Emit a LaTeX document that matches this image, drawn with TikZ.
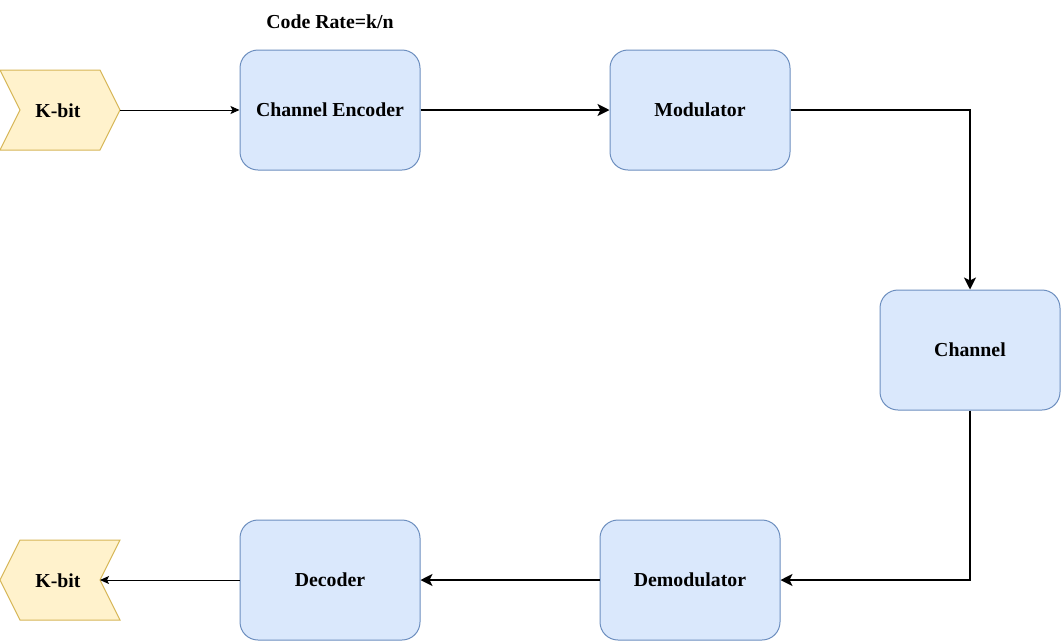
\documentclass[tikz,border=0pt]{standalone}
\usepackage{fontspec}
\setmainfont{Liberation Serif}
\usetikzlibrary{arrows.meta}
\definecolor{boxfill}{HTML}{DAE8FC}
\definecolor{boxline}{HTML}{6C8EBF}
\definecolor{bitfill}{HTML}{FFF2CC}
\definecolor{bitline}{HTML}{D6B656}

\begin{document}
\begin{tikzpicture}[x=1pt, y=-1pt,
    label font/.style={font=\bfseries\fontsize{19.8}{23}\selectfont},
    block/.style={draw=boxline, fill=boxfill, line width=1pt, rounded corners=18pt,
      minimum width=180pt, minimum height=120pt, label font},
    bit/.style={draw=bitline, fill=bitfill, line width=1pt},
    link/.style={line width=1pt, -{Stealth[length=9pt, width=8pt, inset=2pt]}},
    flow/.style={line width=2pt, -{Stealth[length=12pt, width=12pt, inset=3pt]}}]
    \useasboundingbox (0,0) rectangle (1061,641);
    % input and output bits
    \draw[bit] (0,70) -- (100,70) -- (120,110) coordinate (intip) -- (100,150) -- (0,150) -- (20,110) -- cycle;
    \draw[bit] (20,540) -- (120,540) -- (100,580) coordinate (outnotch) -- (120,620) -- (20,620) -- (0,580) -- cycle;
    \node[label font] (kin) at (58,111) {K-bit};
    \node[label font] (kout) at (58,581) {K-bit};
    % blocks
    \node[block] (encoder) at (330,110) {Channel Encoder};
    \node[block] (modulator) at (700,110) {Modulator};
    \node[block] (channel) at (970,350) {Channel};
    \node[block] (demodulator) at (690,580) {Demodulator};
    \node[block] (decoder) at (330,580) {Decoder};
    \node[label font] (rate) at (330,22) {Code Rate=k/n};
    % connectors
    \draw[link] (intip) -- (encoder);
    \draw[flow] (encoder) -- (modulator);
    \draw[flow] (modulator.east) -| (channel.north);
    \draw[flow] (channel.south) |- (demodulator.east);
    \draw[flow] (demodulator) -- (decoder);
    \draw[link] (decoder) -- (outnotch);
\end{tikzpicture}
\end{document}
